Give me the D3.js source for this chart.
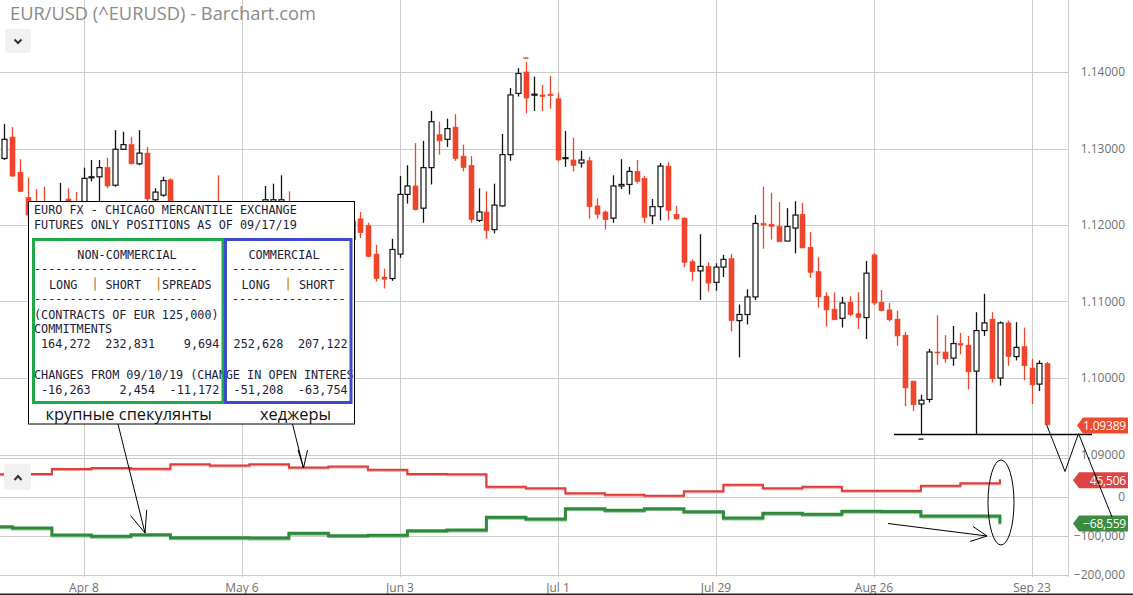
<!DOCTYPE html>
<html><head><meta charset="utf-8">
<script src="https://cdn.jsdelivr.net/npm/d3@7"></script>
<style>
html,body{margin:0;padding:0;background:#fff;}
svg{display:block;}
</style></head>
<body>
<svg id="c" width="1133" height="595"></svg>
<script>
// ---------------- DATA ----------------
const startDate = "2019-03-25"; // first trading day shown (weekdays only)
const openP = [1.1287,1.1315,1.1269,1.1236,1.1222,1.1225,1.1215,1.1185,1.1234,1.1222,
1.1218,1.1262,1.1263,1.1275,1.1252,1.1299,1.1305,1.1280,1.1294,1.1233,
1.1239,1.1259,1.1224,1.1153,1.1131,1.1150,1.1183,1.1215,1.1194,1.1171,
1.1180,1.1199,1.1190,1.1205,1.1215,1.1218,1.1228,1.1205,1.1203,1.1174,
1.1157,1.1166,1.1160,1.1152,1.1181,1.1208,1.1199,1.1162,1.1132,1.1130,
1.1162,1.1240,1.1251,1.1222,1.1275,1.1318,1.1312,1.1328,1.1290,1.1278,
1.1206,1.1217,1.1194,1.1225,1.1292,1.1372,1.1400,1.1370,1.1370,1.1371,
1.1365,1.1287,1.1285,1.1281,1.1284,1.1225,1.1217,1.1209,1.1251,1.1253,
1.1270,1.1261,1.1212,1.1224,1.1277,1.1214,1.1209,1.1152,1.1140,1.1146,
1.1125,1.1145,1.1156,1.1075,1.1083,1.1106,1.1202,1.1201,1.1198,1.1179,
1.1196,1.1214,1.1171,1.1139,1.1107,1.1090,1.1078,1.1099,1.1084,1.1079,
1.1161,1.1099,1.1089,1.1077,1.1056,1.0996,1.0966,1.0972,1.1034,1.1034,
1.1026,1.1045,1.1043,1.1009,1.1062,1.1077,1.1000,1.1072,1.1028,1.1041,
1.1013,1.0992,1.1019];
const highP = [1.1332,1.1328,1.1286,1.1262,1.1247,1.1250,1.1225,1.1255,1.1248,1.1243,
1.1275,1.1285,1.1285,1.1288,1.1324,1.1322,1.1315,1.1324,1.1302,1.1248,
1.1263,1.1261,1.1229,1.1163,1.1164,1.1187,1.1225,1.1265,1.1200,1.1207,
1.1205,1.1212,1.1212,1.1251,1.1254,1.1265,1.1244,1.1224,1.1215,1.1183,
1.1172,1.1180,1.1175,1.1186,1.1215,1.1217,1.1203,1.1174,1.1143,1.1182,
1.1264,1.1278,1.1307,1.1310,1.1349,1.1335,1.1339,1.1345,1.1305,1.1290,
1.1248,1.1244,1.1254,1.1319,1.1379,1.1405,1.1413,1.1394,1.1383,1.1395,
1.1373,1.1323,1.1314,1.1297,1.1289,1.1235,1.1219,1.1265,1.1286,1.1276,
1.1285,1.1264,1.1234,1.1281,1.1282,1.1225,1.1210,1.1155,1.1188,1.1151,
1.1150,1.1161,1.1162,1.1096,1.1116,1.1213,1.1250,1.1242,1.1230,1.1222,
1.1231,1.1229,1.1191,1.1158,1.1112,1.1112,1.1106,1.1107,1.1112,1.1153,
1.1163,1.1115,1.1098,1.1088,1.1060,1.0996,1.0978,1.1038,1.1082,1.1056,
1.1068,1.1059,1.1055,1.1086,1.1110,1.1086,1.1074,1.1075,1.1073,1.1066,
1.1025,1.1023,1.1021];
const lowP = [1.1285,1.1263,1.1243,1.1205,1.1200,1.1205,1.1183,1.1180,1.1205,1.1200,
1.1212,1.1257,1.1230,1.1248,1.1250,1.1298,1.1279,1.1278,1.1226,1.1228,
1.1237,1.1215,1.1145,1.1118,1.1111,1.1143,1.1170,1.1191,1.1135,1.1137,
1.1167,1.1180,1.1183,1.1193,1.1209,1.1212,1.1196,1.1165,1.1170,1.1150,
1.1150,1.1150,1.1140,1.1107,1.1174,1.1183,1.1158,1.1126,1.1117,1.1127,
1.1157,1.1228,1.1219,1.1203,1.1253,1.1292,1.1302,1.1284,1.1270,1.1203,
1.1204,1.1182,1.1189,1.1224,1.1284,1.1368,1.1346,1.1349,1.1349,1.1352,
1.1283,1.1276,1.1270,1.1275,1.1208,1.1208,1.1194,1.1203,1.1247,1.1240,
1.1254,1.1203,1.1201,1.1206,1.1206,1.1207,1.1145,1.1127,1.1102,1.1113,
1.1114,1.1132,1.1061,1.1027,1.1070,1.1102,1.1169,1.1181,1.1178,1.1179,
1.1163,1.1170,1.1131,1.1092,1.1067,1.1076,1.1066,1.1081,1.1064,1.1051,
1.1095,1.1087,1.1074,1.1042,1.0963,1.0957,1.0926,1.0968,1.1017,1.1020,
1.1016,1.1031,1.0985,1.0926,1.1055,1.0994,1.0990,1.1016,1.1023,1.0997,
1.0966,1.0983,1.0939];
const closeP = [1.1312,1.1264,1.1244,1.1213,1.1215,1.1215,1.1185,1.1230,1.1220,1.1216,
1.1261,1.1263,1.1275,1.1251,1.1299,1.1305,1.1280,1.1294,1.1234,1.1243,
1.1258,1.1225,1.1153,1.1131,1.1150,1.1183,1.1215,1.1194,1.1171,1.1200,
1.1199,1.1190,1.1200,1.1233,1.1233,1.1233,1.1205,1.1203,1.1174,1.1157,
1.1166,1.1160,1.1152,1.1181,1.1205,1.1190,1.1159,1.1130,1.1129,1.1168,
1.1240,1.1251,1.1220,1.1275,1.1335,1.1310,1.1326,1.1287,1.1275,1.1207,
1.1217,1.1193,1.1226,1.1292,1.1370,1.1398,1.1366,1.1371,1.1368,1.1369,
1.1285,1.1288,1.1278,1.1285,1.1224,1.1214,1.1207,1.1251,1.1253,1.1270,
1.1257,1.1210,1.1224,1.1277,1.1219,1.1208,1.1151,1.1139,1.1146,1.1124,
1.1145,1.1155,1.1075,1.1083,1.1106,1.1202,1.1200,1.1198,1.1178,1.1198,
1.1213,1.1170,1.1138,1.1106,1.1089,1.1076,1.1098,1.1083,1.1079,1.1137,
1.1098,1.1088,1.1076,1.1055,1.0987,1.0965,1.0971,1.1034,1.1033,1.1025,
1.1045,1.1043,1.1008,1.1062,1.1072,1.0999,1.1072,1.1028,1.1040,1.1016,
1.0991,1.1019,1.09389];
const lastPrice = "1.09389";

const priceTicks = [1.09, 1.10, 1.11, 1.12, 1.13, 1.14];
const dateTicks = ["2019-04-08","2019-05-06","2019-06-03","2019-07-01","2019-07-29","2019-08-26","2019-09-23"];
const dateTickLabels = ["Apr 8","May 6","Jun 3","Jul 1","Jul 29","Aug 26","Sep 23"];

// weekly COT (net positions, as of Tuesdays)
const cotDates = ["2019-03-19","2019-03-26","2019-04-02","2019-04-09","2019-04-16","2019-04-23","2019-04-30",
"2019-05-07","2019-05-14","2019-05-21","2019-05-28","2019-06-04","2019-06-11","2019-06-18","2019-06-25",
"2019-07-02","2019-07-09","2019-07-16","2019-07-23","2019-07-30","2019-08-06","2019-08-13","2019-08-20",
"2019-08-27","2019-09-03","2019-09-10","2019-09-17"];
const commercialNet = [59000,59500,72500,75000,73000,84500,81000,84500,76000,78500,70500,59500,59000,
26700,22400,9500,6000,3400,14600,31800,22400,26700,16300,16000,29200,35400,45506];
const nonCommercialNet = [-76600,-80000,-98000,-101500,-97200,-105000,-105000,-105800,-93800,-99800,-98900,
-86900,-85200,-52500,-56800,-30100,-34400,-30100,-37800,-54200,-42200,-44700,-37000,-37500,-49000,-49000,-68559];
const cotTicks = [0, -100000, -200000];

// table text
const tableTitle = ["EURO FX - CHICAGO MERCANTILE EXCHANGE","FUTURES ONLY POSITIONS AS OF 09/17/19"];
const commitments = ["164,272","232,831","9,694","252,628","207,122"];
const changes = ["-16,263","2,454","-11,172","-51,208","-63,754"];

// ---------------- HELPERS ----------------
function dayIndex(ds){ // weekday index relative to startDate
  const a = new Date(startDate+"T00:00:00Z"), b = new Date(ds+"T00:00:00Z");
  const days = Math.round((b-a)/86400000);
  const w = Math.floor(days/7), r = days - w*7;
  return w*5 + Math.min(r,5);
}
const candles = openP.map((o,i)=>({i, o, h:highP[i], l:lowP[i], c:closeP[i]}));

// ---------------- SCALES ----------------
const PLOT_R = 1068;
const x = d3.scaleLinear().domain([-0.5696, 134.62]).range([0, PLOT_R]);
const y = d3.scaleLinear().domain([1.09, 1.14]).range([454.5, 72]);
const y2 = d3.scaleLinear().domain([100000, -200000]).range([458.25, 574.5]);

const svg = d3.select("#c");
const RED = "#f0452b";
const defs = svg.append("defs");
defs.append("clipPath").attr("id","cp1").append("rect").attr("x",0).attr("y",0).attr("width",PLOT_R).attr("height",456);
defs.append("clipPath").attr("id","cp2").append("rect").attr("x",0).attr("y",457).attr("width",PLOT_R).attr("height",120);
defs.append("clipPath").attr("id","cpt").append("rect").attr("x",28.5).attr("y",201).attr("width",326.5).attr("height",223);

// ---------------- GRID ----------------
const grid = svg.append("g").attr("stroke","#cccccc").attr("stroke-width",1).attr("shape-rendering","crispEdges");
dateTicks.forEach(d=>{
  const xx = Math.round(x(dayIndex(d)))+0.5;
  grid.append("line").attr("x1",xx).attr("x2",xx).attr("y1",0).attr("y2",577);
});
priceTicks.forEach(p=>{
  const yy = Math.round(y(p))+0.5;
  grid.append("line").attr("x1",0).attr("x2",PLOT_R).attr("y1",yy).attr("y2",yy);
});
[100000,0,-100000,-200000].forEach(v=>{
  const yy = Math.round(y2(v))+0.5;
  grid.append("line").attr("x1",0).attr("x2",PLOT_R).attr("y1",yy).attr("y2",yy);
});
grid.append("line").attr("x1",PLOT_R+0.5).attr("x2",PLOT_R+0.5).attr("y1",0).attr("y2",577);

// ---------------- TITLE & BUTTONS ----------------
svg.append("text").attr("x",10).attr("y",20).attr("font-family","Open Sans").attr("font-size",18.3)
  .attr("fill","#8a8a8a").text("EUR/USD (^EURUSD) - Barchart.com");
svg.append("rect").attr("x",5).attr("y",29).attr("width",26).attr("height",24).attr("rx",3).attr("fill","#f1f1f1");
svg.append("path").attr("d","M14.5,39.5 L18,43 L21.5,39.5").attr("fill","none").attr("stroke","#333").attr("stroke-width",2);

// ---------------- CANDLES ----------------
const cg = svg.append("g").attr("clip-path","url(#cp1)");
const bw = 5;
cg.selectAll("line.w").data(candles).join("line")
  .attr("x1",d=>Math.round(x(d.i))+0.5).attr("x2",d=>Math.round(x(d.i))+0.5)
  .attr("y1",d=>y(d.h)).attr("y2",d=>y(d.l))
  .attr("stroke",d=>d.c>=d.o?"#111":RED).attr("stroke-width",1.3);
cg.selectAll("rect.b").data(candles).join("rect")
  .attr("x",d=>Math.round(x(d.i))+0.5-bw/2).attr("width",bw)
  .attr("y",d=>y(Math.max(d.o,d.c)))
  .attr("height",d=>Math.max(1,Math.abs(y(d.o)-y(d.c))))
  .attr("fill",d=>d.c>=d.o?"#fff":RED)
  .attr("stroke",d=>d.c>=d.o?"#111":RED).attr("stroke-width",d=>d.c>=d.o?1.2:0.6);
// period high / low markers
const hiI = d3.maxIndex(highP);
cg.append("line").attr("x1",x(hiI)-2.5).attr("x2",x(hiI)+2.5).attr("y1",y(highP[hiI])-4).attr("y2",y(highP[hiI])-4)
  .attr("stroke",RED).attr("stroke-width",1.5);
svg.append("line").attr("x1",x(116)-2.5).attr("x2",x(116)+2.5).attr("y1",y(lowP[116])+4.5).attr("y2",y(lowP[116])+4.5)
  .attr("stroke","#333").attr("stroke-width",1.5);

// ---------------- COT LINES ----------------
const lg = svg.append("g").attr("clip-path","url(#cp2)");
const cotPts = (arr)=>cotDates.map((d,k)=>[x(dayIndex(d)), y2(arr[k])]);
const stepLine = d3.line().curve(d3.curveStepAfter);
lg.append("path").attr("d",stepLine(cotPts(commercialNet).map(p=>[p[0],p[1]+1]))).attr("fill","none")
  .attr("stroke","#f0a0a0").attr("stroke-width",2);
lg.append("path").attr("d",stepLine(cotPts(commercialNet))).attr("fill","none")
  .attr("stroke","#e03c3c").attr("stroke-width",2);
lg.append("path").attr("d",stepLine(cotPts(nonCommercialNet).map(p=>[p[0],p[1]+1.2]))).attr("fill","none")
  .attr("stroke","#8fc79a").attr("stroke-width",2.5);
lg.append("path").attr("d",stepLine(cotPts(nonCommercialNet))).attr("fill","none")
  .attr("stroke","#2f8a3c").attr("stroke-width",3);
svg.append("rect").attr("x",4).attr("y",464).attr("width",27).attr("height",26).attr("rx",3).attr("fill","#f1f1f1");
svg.append("path").attr("d","M14.5,480 L18,476 L21.5,480").attr("fill","none").attr("stroke","#333").attr("stroke-width",2);

// ---------------- AXES ----------------
const axR = svg.append("g").attr("transform",`translate(${PLOT_R},0)`)
  .call(d3.axisRight(y).tickValues(priceTicks).tickFormat(d3.format(".5f")).tickSize(0));
const axR2 = svg.append("g").attr("transform",`translate(${PLOT_R},0)`)
  .call(d3.axisRight(y2).tickValues(cotTicks).tickFormat(d=>d3.format(",")(d)).tickSize(0));
[axR,axR2].forEach(a=>{
  a.select(".domain").remove();
  a.selectAll("text").attr("x",57).attr("text-anchor","end").attr("font-family","Open Sans")
    .attr("font-size",12).attr("fill","#707070");
});
const axB = svg.append("g").attr("transform","translate(0,581)")
  .call(d3.axisBottom(x).tickValues(dateTicks.map(dayIndex)).tickFormat((d,k)=>dateTickLabels[k]).tickSize(0));
axB.select(".domain").remove();
axB.selectAll("text").attr("y",10.5).attr("dy",0).attr("font-family","Open Sans").attr("font-size",12).attr("fill","#707070");
svg.append("rect").attr("x",0).attr("y",593.5).attr("width",1133).attr("height",1.5).attr("fill","#222");

// ---------------- COT TABLE ----------------
const tb = svg.append("g");
tb.append("rect").attr("x",28.5).attr("y",201.5).attr("width",326).attr("height",222.5)
  .attr("fill","#fff").attr("stroke","#000").attr("stroke-width",1);
const tt = tb.append("g").attr("clip-path","url(#cpt)").attr("font-family","DejaVu Sans Mono")
  .attr("font-size",11.8).attr("fill","#1c1c3a");
const mono = (xx,yy,s,anchor)=>tt.append("text").attr("x",xx).attr("y",yy).attr("text-anchor",anchor||"start").text(s);
mono(34,213.5,tableTitle[0]);
mono(34,228.5,tableTitle[1]);
mono(127,258.5,"NON-COMMERCIAL","middle");
mono(284,258.5,"COMMERCIAL","middle");
mono(34,273,"-----------------------");
mono(232,273,"----------------");
mono(49,288.5,"LONG");
mono(105.5,288.5,"SHORT");
mono(162,288.5,"SPREADS");
mono(241.5,288.5,"LONG");
mono(299,288.5,"SHORT");
[95,158.5,288].forEach(xx=>tt.append("rect").attr("x",xx-0.7).attr("y",277.5).attr("width",1.6).attr("height",13).attr("fill","#d4984a"));
mono(34,303,"-----------------------");
mono(232,303,"----------------");
mono(34,318.5,"(CONTRACTS OF EUR 125,000)");
mono(34,333,"COMMITMENTS");
const numX = [90.7,155,219.3,283.3,347.7];
commitments.forEach((s,k)=>mono(numX[k],348,s,"end"));
mono(34,378.5,"CHANGES FROM 09/10/19 (CHANGE IN OPEN INTEREST:");
changes.forEach((s,k)=>mono(numX[k],393.5,s,"end"));
tb.append("rect").attr("x",33.5).attr("y",239.5).attr("width",189.5).attr("height",163)
  .attr("fill","none").attr("stroke","#20a848").attr("stroke-width",3);
tb.append("rect").attr("x",225.5).attr("y",239.5).attr("width",125.5).attr("height",163)
  .attr("fill","none").attr("stroke","#3d4acb").attr("stroke-width",3);
tb.append("text").attr("x",45.5).attr("y",420).attr("font-family","Open Sans").attr("font-size",16.4)
  .attr("fill","#111").text("крупные спекулянты");
tb.append("text").attr("x",260).attr("y",420).attr("font-family","Open Sans").attr("font-size",16.4)
  .attr("fill","#111").text("хеджеры");

// ---------------- PRICE TAGS ----------------
function tag(yc, txt, col, xl){
  const g = svg.append("g");
  g.append("path").attr("d",`M${xl},${yc} L${xl+6},${yc-8} L1128,${yc-8} L1128,${yc+8} L${xl+6},${yc+8} Z`).attr("fill",col);
  g.append("text").attr("x",1126).attr("y",yc+4.3).attr("text-anchor","end").attr("font-family","Open Sans")
    .attr("font-size",12).attr("letter-spacing",-0.2).attr("fill","#fff").text(txt);
}
tag(y(closeP[closeP.length-1])+0.8, lastPrice, "#ef4a2e", 1077);
tag(y2(commercialNet[commercialNet.length-1])+1, d3.format(",")(commercialNet[commercialNet.length-1]), "#de4444", 1073);
tag(y2(nonCommercialNet[nonCommercialNet.length-1]), d3.format(",")(nonCommercialNet[nonCommercialNet.length-1]), "#3b8c41", 1073);

// ---------------- ANNOTATIONS ----------------
const an = svg.append("g").attr("fill","none").attr("stroke","#000").attr("stroke-width",1);
an.append("line").attr("x1",894).attr("x2",1092).attr("y1",434.5).attr("y2",434.5).attr("stroke-width",1.3);
an.append("polyline").attr("points","1046.5,424.5 1065,471.5 1078.5,433.5 1112,517");
an.append("ellipse").attr("cx",1001).attr("cy",502.5).attr("rx",13).attr("ry",42.5);
an.append("polyline").attr("points","888,523.5 987,536");
an.append("polyline").attr("points","973,526.5 987,536 970,541.5");
an.append("line").attr("x1",118).attr("y1",424).attr("x2",145).attr("y2",533);
an.append("polyline").attr("points","130.5,515.5 145,533 146.7,510");
an.append("line").attr("x1",292.5).attr("y1",424).attr("x2",303.5).attr("y2",468);
an.append("polyline").attr("points","298,450 303.5,468 307.5,450");
</script>
</body></html>
